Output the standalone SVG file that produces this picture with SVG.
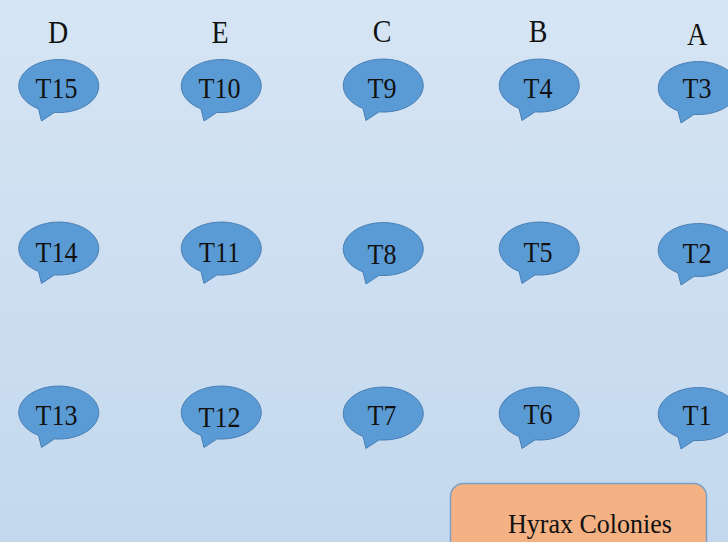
<svg xmlns="http://www.w3.org/2000/svg" xmlns:xlink="http://www.w3.org/1999/xlink" width="728" height="542" viewBox="0 0 728 542">
<defs>
<linearGradient id="bg" x1="0" y1="0" x2="0" y2="1">
<stop offset="0" stop-color="#d6e5f4"/>
<stop offset="1" stop-color="#c3d8ee"/>
</linearGradient>
<path id="bubble" d="M -4 26.4 A 40 26.5 0 1 0 -20 22.9 L -17 35 Z"/>
</defs>
<style>
.b{fill:#5b9bd5;stroke:#4a7fb4;stroke-width:1}
.t{font-family:"Liberation Serif","Times New Roman",serif;font-size:26px;fill:#111;text-anchor:middle}
.h{font-family:"Liberation Serif","Times New Roman",serif;font-size:28px;fill:#111;text-anchor:middle}
</style>
<rect width="728" height="542" fill="url(#bg)"/>
<g id="headers">
<text class="h" transform="translate(58,43) scale(1,1.12)">D</text>
<text class="h" transform="translate(220,43) scale(1,1.12)">E</text>
<text class="h" transform="translate(382,42) scale(1,1.12)">C</text>
<text class="h" transform="translate(538,42) scale(1,1.12)">B</text>
<text class="h" transform="translate(697,45) scale(1,1.12)">A</text>
</g>
<g id="connectors"></g>
<g id="T15"><use xlink:href="#bubble" class="b" x="58.5" y="86"/><text class="t" transform="translate(56.5,98) scale(1,1.12)">T15</text></g>
<g id="T10"><use xlink:href="#bubble" class="b" x="221" y="86"/><text class="t" transform="translate(219.5,98) scale(1,1.12)">T10</text></g>
<g id="T9"><use xlink:href="#bubble" class="b" x="383" y="85.5"/><text class="t" transform="translate(382,98) scale(1,1.12)">T9</text></g>
<g id="T4"><use xlink:href="#bubble" class="b" x="539" y="85.5"/><text class="t" transform="translate(538,98) scale(1,1.12)">T4</text></g>
<g id="T3"><use xlink:href="#bubble" class="b" x="698" y="88"/><text class="t" transform="translate(697,98) scale(1,1.12)">T3</text></g>
<g id="T14"><use xlink:href="#bubble" class="b" x="58.5" y="248.5"/><text class="t" transform="translate(56.5,262) scale(1,1.12)">T14</text></g>
<g id="T11"><use xlink:href="#bubble" class="b" x="221" y="248.5"/><text class="t" transform="translate(219.5,262) scale(1,1.12)">T11</text></g>
<g id="T8"><use xlink:href="#bubble" class="b" x="383" y="249"/><text class="t" transform="translate(382,264) scale(1,1.12)">T8</text></g>
<g id="T5"><use xlink:href="#bubble" class="b" x="539" y="248.5"/><text class="t" transform="translate(538,262) scale(1,1.12)">T5</text></g>
<g id="T2"><use xlink:href="#bubble" class="b" x="698" y="250"/><text class="t" transform="translate(697,263) scale(1,1.12)">T2</text></g>
<g id="T13"><use xlink:href="#bubble" class="b" x="58.5" y="412.5"/><text class="t" transform="translate(56.5,425) scale(1,1.12)">T13</text></g>
<g id="T12"><use xlink:href="#bubble" class="b" x="221" y="412.5"/><text class="t" transform="translate(219.5,427) scale(1,1.12)">T12</text></g>
<g id="T7"><use xlink:href="#bubble" class="b" x="383" y="413.5"/><text class="t" transform="translate(382,425) scale(1,1.12)">T7</text></g>
<g id="T6"><use xlink:href="#bubble" class="b" x="539" y="413.5"/><text class="t" transform="translate(538,424) scale(1,1.12)">T6</text></g>
<g id="T1"><use xlink:href="#bubble" class="b" x="698" y="414"/><text class="t" transform="translate(697,425) scale(1,1.12)">T1</text></g>
<g id="hyrax">
<rect x="450.5" y="483.5" width="256" height="80" rx="13" ry="13" fill="#f4b183" stroke="#7d9fc4" stroke-width="1.5"/>
<text class="t" transform="translate(590,533) scale(1,1.08)">Hyrax Colonies</text>
</g>
</svg>
